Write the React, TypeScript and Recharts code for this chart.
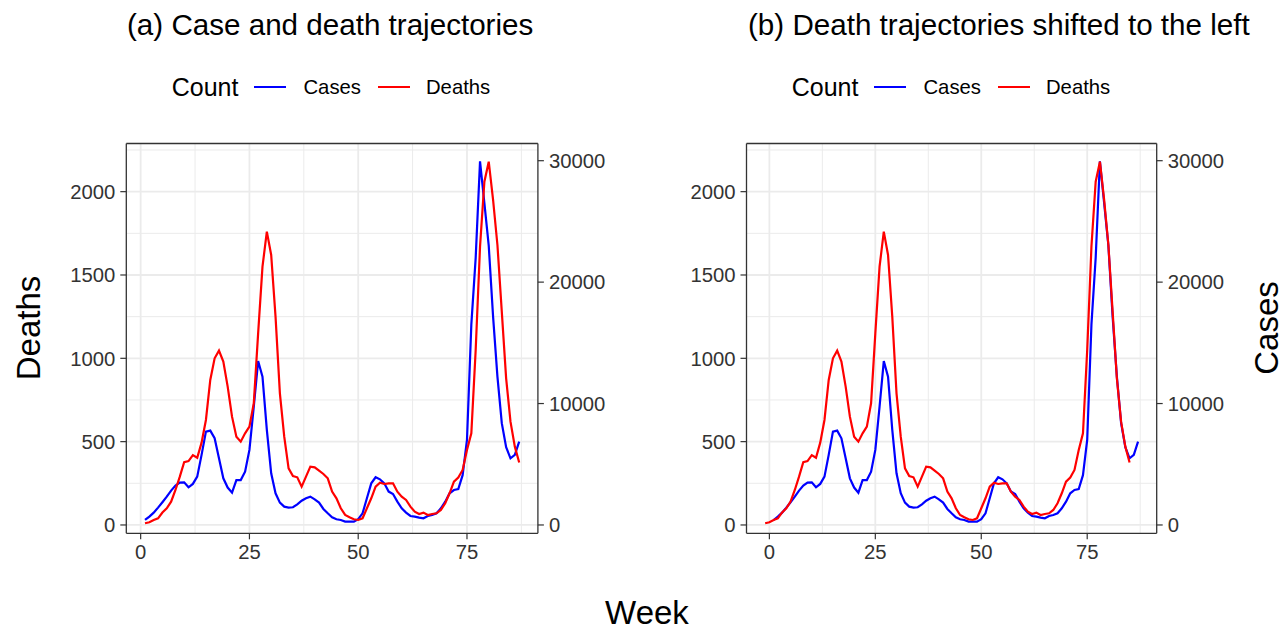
import React from 'react';
import { LineChart, Line, XAxis, YAxis, ReferenceLine } from 'recharts';

// weekly counts, week 1..87
const deaths = [
  10, 16, 30, 40, 75, 100, 140, 210, 290, 377,
  383, 419, 403, 494, 630, 870, 1000, 1046, 980, 830,
  650, 530, 500, 550, 590, 730, 1150, 1550, 1760, 1620,
  1250, 790, 530, 340, 294, 286, 230, 290, 350, 346,
  326, 306, 280, 200, 160, 100, 60, 46, 34, 30,
  40, 100, 160, 230, 254, 246, 250, 250, 200, 170,
  150, 110, 80, 66, 74, 60, 66, 70, 90, 130,
  190, 260, 285, 330, 450, 550, 1050, 1670, 2060, 2180,
  1950, 1680, 1280, 880, 620, 470, 375,
];

const cases = [
  410, 690, 1016, 1430, 1870, 2330, 2830, 3240, 3490, 3510,
  3100, 3380, 3980, 5770, 7690, 7770, 7140, 5490, 3840, 3080,
  2660, 3700, 3700, 4390, 6180, 9750, 13500, 12220, 7830, 4260,
  2610, 1840, 1510, 1430, 1460, 1700, 2000, 2200, 2330, 2110,
  1840, 1320, 960, 630, 470, 410, 275, 275, 275, 470,
  960, 2200, 3430, 3930, 3760, 3430, 2750, 2550, 1920, 1370,
  1020, 740, 690, 600, 550, 740, 820, 960, 1370, 1920,
  2610, 2880, 2950, 4100, 7000, 16500, 22000, 29950, 26500, 23000,
  17160, 12220, 8380, 6400, 5490, 5770, 6870,
];

const shiftWeeks = 2;
const deathTicks = [0, 500, 1000, 1500, 2000];
const deathMinor = [250, 750, 1250, 1750, 2250];
const caseTicks = [0, 10000, 20000, 30000];
const weekTicks = [0, 25, 50, 75];
const weekMinor = [12.5, 37.5, 62.5, 87.5];

const RATIO = 13.725; // cases per death on the secondary axis
const DEATH_DOMAIN: [number, number] = [-50, 2289];
const CASE_DOMAIN: [number, number] = [DEATH_DOMAIN[0] * RATIO, DEATH_DOMAIN[1] * RATIO];

const FONT = '"Liberation Sans", Arial, Helvetica, sans-serif';
const BLUE = '#0000FF';
const RED = '#FF0000';
const BORDER = '#333333';
const GRID = '#EBEBEB';

const caseRows = cases.map((c, i) => ({ week: i + 1, cases: c }));
const deathRowsA = deaths.map((d, i) => ({ week: i + 1, deaths: d }));
const deathRowsB = deaths.map((d, i) => ({ week: i + 1 - shiftWeeks, deaths: d }));

const tickStyle = { fontSize: 20.3, fill: '#333333', fontFamily: FONT };

interface PanelProps {
  left: number;
  width: number;
  marginLeft: number;
  marginRight: number;
  xDomain: [number, number];
  deathRows: { week: number; deaths: number }[];
}

const Panel = ({ left, width, marginLeft, marginRight, xDomain, deathRows }: PanelProps) => (
  <div style={{ position: 'absolute', left, top: 0 }}>
    <LineChart
      width={width}
      height={629}
      margin={{ top: 143.5, bottom: 55.7, left: marginLeft, right: marginRight }}
    >
      <XAxis
        dataKey="week"
        type="number"
        domain={xDomain}
        allowDataOverflow
        ticks={weekTicks}
        height={40}
        tickSize={6}
        tickMargin={5}
        tick={tickStyle}
        axisLine={{ stroke: BORDER, strokeWidth: 1.3 }}
        tickLine={{ stroke: BORDER, strokeWidth: 1.2 }}
      />
      <YAxis
        yAxisId="left"
        type="number"
        domain={DEATH_DOMAIN}
        allowDataOverflow
        ticks={deathTicks}
        width={70}
        tickSize={6}
        tickMargin={5}
        tick={tickStyle}
        axisLine={{ stroke: BORDER, strokeWidth: 1.3 }}
        tickLine={{ stroke: BORDER, strokeWidth: 1.2 }}
      />
      <YAxis
        yAxisId="right"
        orientation="right"
        type="number"
        domain={CASE_DOMAIN}
        allowDataOverflow
        ticks={caseTicks}
        width={80}
        tickSize={6}
        tickMargin={5}
        tick={tickStyle}
        axisLine={{ stroke: BORDER, strokeWidth: 1.3 }}
        tickLine={{ stroke: BORDER, strokeWidth: 1.2 }}
      />
      {weekMinor.map((w) => (
        <ReferenceLine key={'xm' + w} x={w} yAxisId="left" stroke={GRID} strokeWidth={1} />
      ))}
      {deathMinor.map((v) => (
        <ReferenceLine key={'ym' + v} y={v} yAxisId="left" stroke={GRID} strokeWidth={1} />
      ))}
      {weekTicks.map((w) => (
        <ReferenceLine key={'x' + w} x={w} yAxisId="left" stroke={GRID} strokeWidth={1.8} />
      ))}
      {deathTicks.map((v) => (
        <ReferenceLine key={'y' + v} y={v} yAxisId="left" stroke={GRID} strokeWidth={1.8} />
      ))}
      {/* top edge of the panel border */}
      <ReferenceLine y={DEATH_DOMAIN[1]} yAxisId="left" stroke={BORDER} strokeWidth={1.3} />
      <Line
        data={caseRows}
        dataKey="cases"
        yAxisId="right"
        type="linear"
        stroke={BLUE}
        strokeWidth={2.2}
        dot={false}
        isAnimationActive={false}
      />
      <Line
        data={deathRows}
        dataKey="deaths"
        yAxisId="left"
        type="linear"
        stroke={RED}
        strokeWidth={2.2}
        dot={false}
        isAnimationActive={false}
      />
    </LineChart>
  </div>
);

const LegendRow = ({ center }: { center: number }) => (
  <div
    style={{
      position: 'absolute',
      left: center - 200,
      width: 400,
      top: 72,
      height: 30,
      display: 'flex',
      justifyContent: 'center',
      alignItems: 'center',
      fontFamily: FONT,
      color: '#000',
    }}
  >
    <span style={{ fontSize: 25, marginRight: 16 }}>Count</span>
    <span style={{ width: 32, height: 2.4, background: BLUE, marginRight: 17 }} />
    <span style={{ fontSize: 20.3, marginRight: 17 }}>Cases</span>
    <span style={{ width: 32, height: 2.4, background: RED, marginRight: 16 }} />
    <span style={{ fontSize: 20.3 }}>Deaths</span>
  </div>
);

const titleStyle: React.CSSProperties = {
  position: 'absolute',
  top: 8,
  fontSize: 29.6,
  lineHeight: '34px',
  fontFamily: FONT,
  color: '#000',
  whiteSpace: 'nowrap',
};

const axisTitle: React.CSSProperties = {
  position: 'absolute',
  fontSize: 33,
  lineHeight: '29px',
  fontFamily: FONT,
  color: '#000',
  whiteSpace: 'nowrap',
};

export default function App() {
  return (
    <div
      style={{
        position: 'absolute',
        left: 0,
        top: 0,
        width: 1283,
        height: 629,
        background: '#fff',
        overflow: 'hidden',
      }}
    >
      <div style={{ ...titleStyle, left: 127 }}>(a) Case and death trajectories</div>
      <div style={{ ...titleStyle, left: 748 }}>(b) Death trajectories shifted to the left</div>
      <LegendRow center={331} />
      <LegendRow center={951} />
      <Panel
        left={0}
        width={640}
        marginLeft={56.3}
        marginRight={22.1}
        xDomain={[-3.3, 91.3]}
        deathRows={deathRowsA}
      />
      <Panel
        left={640}
        width={643}
        marginLeft={36.5}
        marginRight={46.3}
        xDomain={[-5.4, 91.4]}
        deathRows={deathRowsB}
      />
      <div style={{ ...axisTitle, left: 28, top: 328, transform: 'translate(-50%, -50%) rotate(-90deg)' }}>
        Deaths
      </div>
      <div style={{ ...axisTitle, left: 1266, top: 328, transform: 'translate(-50%, -50%) rotate(-90deg)' }}>
        Cases
      </div>
      <div style={{ ...axisTitle, left: 647, top: 612, transform: 'translate(-50%, -50%)' }}>Week</div>
    </div>
  );
}
